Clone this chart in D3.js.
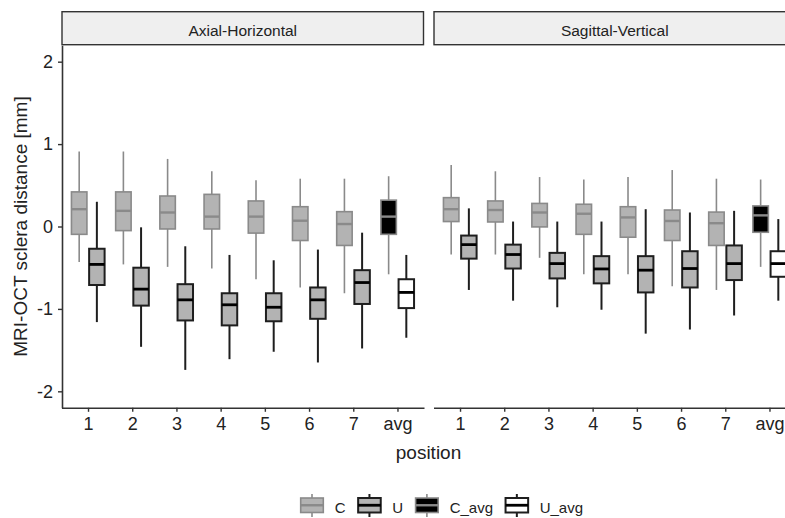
<!DOCTYPE html>
<html>
<head>
<meta charset="utf-8">
<script src="https://cdn.jsdelivr.net/npm/d3@7"></script>
<style>
  html, body { margin: 0; padding: 0; background: #fff; }
  svg { display: block; font-family: "Liberation Sans", Arial, sans-serif; }
</style>
</head>
<body>
<svg id="chart" width="785" height="518"></svg>
<script>
// ---- data (five-number summaries: [lower whisker, Q1, median, Q3, upper whisker]) ----
const positions = ["1", "2", "3", "4", "5", "6", "7", "avg"];
const panels = ["Axial-Horizontal", "Sagittal-Vertical"];
const groups = ["C", "U", "C_avg", "U_avg"];
const yTicks = [-2, -1, 0, 1, 2];

const axialC = [
  [-0.43, -0.095, 0.21, 0.42, 0.91],
  [-0.46, -0.05, 0.19, 0.42, 0.91],
  [-0.49, -0.03, 0.17, 0.37, 0.82],
  [-0.51, -0.03, 0.12, 0.39, 0.67],
  [-0.64, -0.08, 0.12, 0.31, 0.56],
  [-0.74, -0.17, 0.07, 0.24, 0.58],
  [-0.81, -0.23, 0.03, 0.18, 0.58]
];
const axialU = [
  [-1.16, -0.71, -0.46, -0.27, 0.30],
  [-1.46, -0.96, -0.76, -0.50, -0.01],
  [-1.74, -1.14, -0.89, -0.70, -0.24],
  [-1.61, -1.20, -0.95, -0.81, -0.345],
  [-1.52, -1.15, -0.98, -0.81, -0.41],
  [-1.65, -1.12, -0.89, -0.74, -0.28],
  [-1.48, -0.94, -0.68, -0.53, -0.075]
];
const axialCavg = [-0.58, -0.095, 0.12, 0.32, 0.61];
const axialUavg = [-1.35, -0.99, -0.80, -0.64, -0.345];

const sagittalC = [
  [-0.34, 0.06, 0.21, 0.35, 0.745],
  [-0.34, 0.055, 0.20, 0.31, 0.67],
  [-0.38, -0.005, 0.17, 0.28, 0.60],
  [-0.58, -0.095, 0.155, 0.27, 0.57],
  [-0.58, -0.13, 0.11, 0.24, 0.60],
  [-0.725, -0.17, 0.067, 0.20, 0.685],
  [-0.77, -0.23, 0.04, 0.175, 0.58]
];
const sagittalU = [
  [-0.77, -0.39, -0.22, -0.11, 0.22],
  [-0.90, -0.51, -0.34, -0.22, 0.06],
  [-0.98, -0.63, -0.45, -0.32, 0.06],
  [-1.01, -0.69, -0.515, -0.36, 0.06],
  [-1.30, -0.80, -0.53, -0.36, 0.21],
  [-1.25, -0.74, -0.51, -0.30, 0.17],
  [-1.08, -0.65, -0.45, -0.23, 0.19]
];
const sagittalCavg = [-0.49, -0.07, 0.135, 0.25, 0.57];
const sagittalUavg = [-0.90, -0.61, -0.45, -0.30, 0.09];

// ---- styles ----
const style = {
  C:     { fill: "#b3b3b3", stroke: "#8a8a8a", sw: 1.6, med: "#8a8a8a", msw: 2.4 },
  U:     { fill: "#b3b3b3", stroke: "#1e1e1e", sw: 2.0, med: "#000000", msw: 2.8 },
  C_avg: { fill: "#000000", stroke: "#8a8a8a", sw: 1.6, med: "#8a8a8a", msw: 2.4 },
  U_avg: { fill: "#ffffff", stroke: "#1e1e1e", sw: 2.0, med: "#000000", msw: 2.8 }
};

function buildPanel(Carr, Uarr, Cavg, Uavg) {
  const rows = [];
  positions.forEach((p, i) => {
    if (p === "avg") {
      rows.push({ pos: p, group: "C_avg", side: -1, s: Cavg });
      rows.push({ pos: p, group: "U_avg", side: 1, s: Uavg });
    } else {
      rows.push({ pos: p, group: "C", side: -1, s: Carr[i] });
      rows.push({ pos: p, group: "U", side: 1, s: Uarr[i] });
    }
  });
  return rows;
}
const panelData = [
  buildPanel(axialC, axialU, axialCavg, axialUavg),
  buildPanel(sagittalC, sagittalU, sagittalCavg, sagittalUavg)
];

// ---- layout ----
const svg = d3.select("#chart");
const panelW = 362.5;
const panelX = [61.5, 433.5];
const plotTop = 45.2, plotBottom = 407.8;
const stripTop = 11.7, stripBottom = 44.7;
const axisColor = "#333333";
const textColor = "#222222";

const y = d3.scaleLinear().domain([-2.2, 2.2]).range([plotBottom, plotTop]);

panels.forEach((name, pi) => {
  const x0 = panelX[pi];
  const x = d3.scalePoint().domain(positions).range([x0, x0 + panelW]).padding(0.6);
  const step = x.step();
  const dodge = 0.2 * step;
  const bw = 0.35 * step;

  // strip
  svg.append("rect")
    .attr("x", x0 + 0.5).attr("y", stripTop)
    .attr("width", panelW - 1).attr("height", stripBottom - stripTop)
    .attr("fill", "#efefef").attr("stroke", axisColor).attr("stroke-width", 1.4);
  svg.append("text")
    .attr("x", x0 + panelW / 2).attr("y", 35.5)
    .attr("text-anchor", "middle")
    .attr("font-size", 15.5).attr("fill", textColor)
    .text(name);

  // boxes
  const g = svg.append("g");
  panelData[pi].forEach(d => {
    const st = style[d.group];
    const cx = x(d.pos) + d.side * dodge;
    const [lo, q1, med, q3, hi] = d.s;
    g.append("line")
      .attr("x1", cx).attr("x2", cx).attr("y1", y(hi)).attr("y2", y(q3))
      .attr("stroke", st.stroke).attr("stroke-width", st.sw);
    g.append("line")
      .attr("x1", cx).attr("x2", cx).attr("y1", y(q1)).attr("y2", y(lo))
      .attr("stroke", st.stroke).attr("stroke-width", st.sw);
    g.append("rect")
      .attr("x", cx - bw / 2).attr("y", y(q3))
      .attr("width", bw).attr("height", y(q1) - y(q3))
      .attr("fill", st.fill).attr("stroke", st.stroke).attr("stroke-width", st.sw);
    g.append("line")
      .attr("x1", cx - bw / 2).attr("x2", cx + bw / 2).attr("y1", y(med)).attr("y2", y(med))
      .attr("stroke", st.med).attr("stroke-width", st.msw);
  });

  // x axis
  const xa = svg.append("g")
    .attr("transform", `translate(0,${plotBottom})`)
    .call(d3.axisBottom(x).tickSize(4).tickSizeOuter(0).tickPadding(5));
  xa.select(".domain").attr("stroke", axisColor).attr("stroke-width", 1.6);
  xa.selectAll(".tick line").attr("stroke", axisColor).attr("stroke-width", 1.4);
  xa.selectAll(".tick text")
    .attr("font-size", 18).attr("fill", textColor)
    .attr("font-family", "Liberation Sans, Arial, sans-serif");

  if (pi === 0) {
    const ya = svg.append("g")
      .attr("transform", `translate(${x0 + 0.5},0)`)
      .call(d3.axisLeft(y).tickValues(yTicks).tickSize(4).tickSizeOuter(0).tickPadding(5)
        .tickFormat(d3.format("d")));
    ya.select(".domain").attr("stroke", axisColor).attr("stroke-width", 1.6);
    ya.selectAll(".tick line").attr("stroke", axisColor).attr("stroke-width", 1.4);
    ya.selectAll(".tick text")
      .attr("font-size", 18).attr("fill", textColor)
      .attr("font-family", "Liberation Sans, Arial, sans-serif")
      .text(d => d < 0 ? "-" + Math.abs(d) : String(d));
  }
});

// axis titles
svg.append("text")
  .attr("transform", `translate(27,${(plotTop + plotBottom) / 2}) rotate(-90)`)
  .attr("text-anchor", "middle").attr("font-size", 19).attr("fill", textColor)
  .text("MRI-OCT sclera distance [mm]");
svg.append("text")
  .attr("x", 428.5).attr("y", 459)
  .attr("text-anchor", "middle").attr("font-size", 19).attr("fill", textColor)
  .text("position");

// legend
const leg = svg.append("g");
let lx = 300.7;
const keyW = 22.6, boxTop = 498, boxBot = 512.5;
groups.forEach(gname => {
  const st = style[gname];
  const cx = lx + keyW / 2;
  leg.append("line").attr("x1", cx).attr("x2", cx).attr("y1", 494).attr("y2", boxTop)
    .attr("stroke", st.stroke).attr("stroke-width", st.sw);
  leg.append("line").attr("x1", cx).attr("x2", cx).attr("y1", boxBot).attr("y2", 517)
    .attr("stroke", st.stroke).attr("stroke-width", st.sw);
  leg.append("rect").attr("x", lx).attr("y", boxTop).attr("width", keyW).attr("height", boxBot - boxTop)
    .attr("fill", st.fill).attr("stroke", st.stroke).attr("stroke-width", st.sw);
  leg.append("line").attr("x1", lx).attr("x2", lx + keyW)
    .attr("y1", (boxTop + boxBot) / 2).attr("y2", (boxTop + boxBot) / 2)
    .attr("stroke", st.med).attr("stroke-width", st.msw);
  const t = leg.append("text").attr("x", lx + keyW + 11.5).attr("y", 513)
    .attr("font-size", 15).attr("fill", textColor).text(gname);
  lx = lx + keyW + 11.5 + t.node().getComputedTextLength() + 12.5;
});
</script>
</body>
</html>
